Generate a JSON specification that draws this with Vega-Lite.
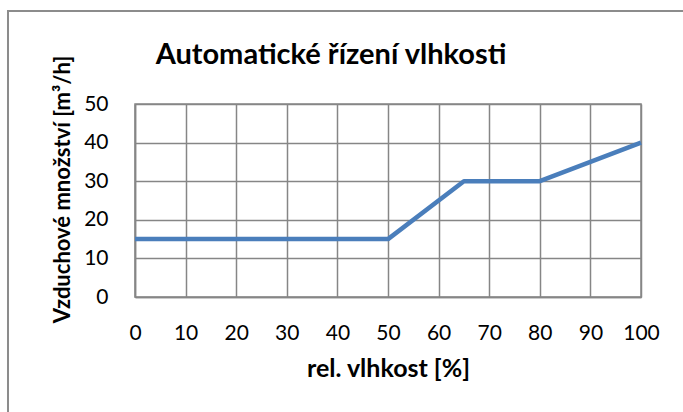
{
  "$schema": "https://vega.github.io/schema/vega-lite/v6.json",
  "width": 506,
  "height": 193,
  "autosize": {"type": "none"},
  "padding": {"left": 135, "top": 104, "right": 42, "bottom": 115},
  "background": "white",
  "title": {"text": "Automatické řízení vlhkosti", "font": "Lato", "fontSize": 29, "fontWeight": "bold", "anchor": "middle", "dx": -57, "offset": 0, "dy": 83, "baseline": "alphabetic", "color": "black"},
  "config": {"view": {"stroke": "#868686", "strokeWidth": 1.5}, "font": "Lato", "axis": {"labelOverlap": false, "labelBound": false, "labelFlush": false}},
  "layer": [
    {
      "data": {"values": [
        {"rh": 0, "q": 15},
        {"rh": 50, "q": 15},
        {"rh": 65, "q": 30},
        {"rh": 80, "q": 30},
        {"rh": 100, "q": 40}
      ]},
      "mark": {"type": "line", "color": "#4a7ebb", "strokeWidth": 4.5, "strokeJoin": "round"},
      "encoding": {
        "x": {"field": "rh", "type": "quantitative",
          "scale": {"domain": [0, 100], "nice": false},
          "axis": {"values": [0,10,20,30,40,50,60,70,80,90,100], "grid": true, "gridColor": "#868686", "gridOpacity": 1, "gridWidth": 1.5,
            "domainColor": "#868686", "domainWidth": 1.5, "ticks": false, "labelPadding": 25, "labelFontSize": 21, "labelColor": "black", "labelFont": "Lato",
            "title": "rel. vlhkost [%]", "titleFontSize": 25, "titleFontWeight": "bold", "titleColor": "black", "titleFont": "Lato", "titlePadding": 13}},
        "y": {"field": "q", "type": "quantitative",
          "scale": {"domain": [0, 50], "nice": false},
          "axis": {"values": [0,10,20,30,40,50], "tickCount": 6, "grid": true, "gridColor": "#868686", "gridOpacity": 1, "gridWidth": 1.5,
            "domainColor": "#868686", "domainWidth": 1.5, "ticks": false, "labelPadding": 27, "labelFontSize": 21, "labelColor": "black", "labelFont": "Lato",
            "title": "Vzduchové množství [m³/h]", "titleFontSize": 22, "titleFontWeight": "bold", "titleColor": "black", "titleFont": "Lato", "titlePadding": 9, "titleY": 85}}
      }
    },
    {
      "data": {"values": [{}]},
      "mark": {"type": "rect", "fill": null, "stroke": "#8c8c8c", "strokeWidth": 2, "clip": false},
      "encoding": {
        "x": {"datum": -25.1, "type": "quantitative"},
        "x2": {"datum": 115},
        "y": {"datum": 74.1, "type": "quantitative"},
        "y2": {"datum": -35}
      }
    }
  ]
}
